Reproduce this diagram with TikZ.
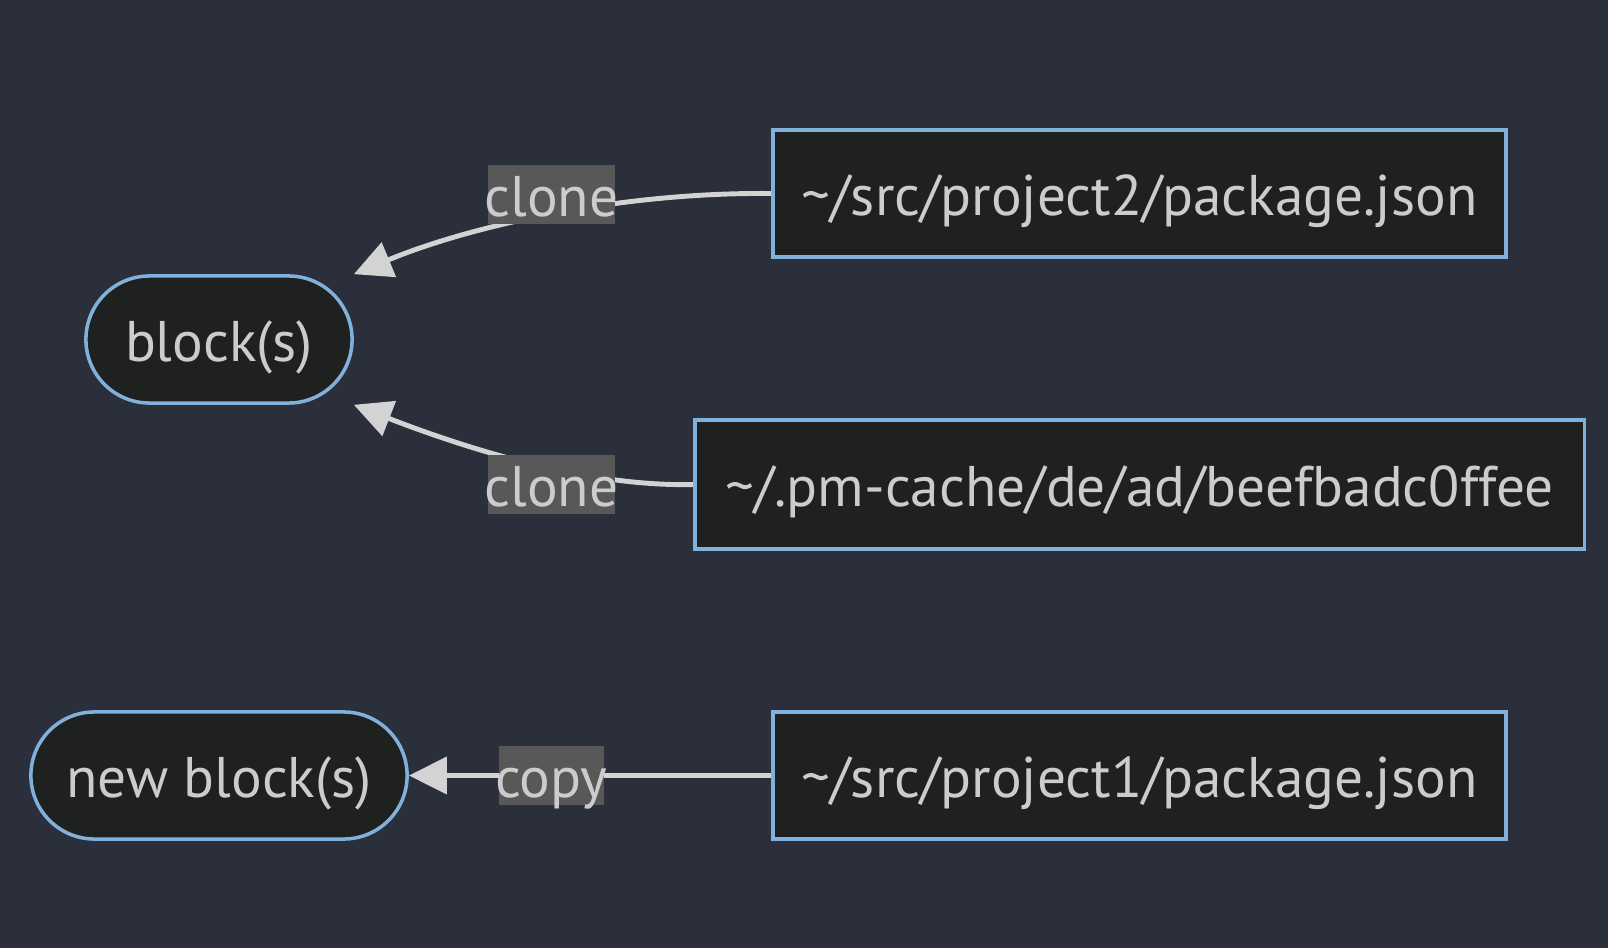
\documentclass[tikz,border=0pt]{standalone}
\usepackage{fontspec}
\setmainfont{PT Sans}
\usetikzlibrary{arrows.meta}
\definecolor{bgc}{HTML}{2A2F3B}
\definecolor{nodefill}{HTML}{1F2020}
\definecolor{nodeline}{HTML}{81B1DB}
\definecolor{edgec}{HTML}{D3D3D3}
\definecolor{lblfill}{HTML}{585858}
\definecolor{txt}{HTML}{CCCCCC}
\begin{document}
\begin{tikzpicture}[x=0.01cm,y=-0.01cm,
     every node/.style={inner sep=0pt,text=txt,text height=0.44cm,text depth=0cm,font=\fontsize{16.3}{19}\selectfont},
     pathbox/.style={draw=nodeline,fill=nodefill,line width=1pt,minimum height=1.27cm},
     blockbox/.style={pathbox,rounded corners=0.635cm},
     edge/.style={draw=edgec,line width=1.4pt,-{Triangle[length=10.8pt,width=10.4pt]}},
     lbl/.style={fill=lblfill,inner xsep=-1pt,minimum height=0.59cm}]
     \fill [bgc] (0,0) rectangle (1608,948);
     \useasboundingbox (0,0) rectangle (1608,948);
     \node [blockbox,minimum width=2.66cm] (blk) at (219,339.5) {block(s)};
     \node [blockbox,minimum width=3.76cm] (newblk) at (219,775.5) {new block(s)};
     \node [pathbox,minimum width=7.33cm] (proj2) at (1139.5,193.5) {\textasciitilde/src/project2/package.json};
     \node [pathbox,minimum width=8.89cm,minimum height=1.29cm] (cache) at (1139.5,484.5) {\textasciitilde/.pm-cache/de/ad/beefbadc0ffee};
     \node [pathbox,minimum width=7.33cm] (proj1) at (1139.5,775.5) {\textasciitilde/src/project1/package.json};
     \draw [edge] (proj2.west) .. controls (620,192) and (470,226) .. (blk.north east);
     \draw [edge] (cache.west) .. controls (590,487) and (470,450) .. (blk.south east);
     \draw [edge] (proj1.west) -- (newblk.east);
     \node [lbl] (clone2) at (551.5,194.5) {clone};
     \node [lbl] (clone1) at (551.5,484.5) {clone};
     \node [lbl] (copy1) at (551.5,775.5) {copy};
\end{tikzpicture}
\end{document}
